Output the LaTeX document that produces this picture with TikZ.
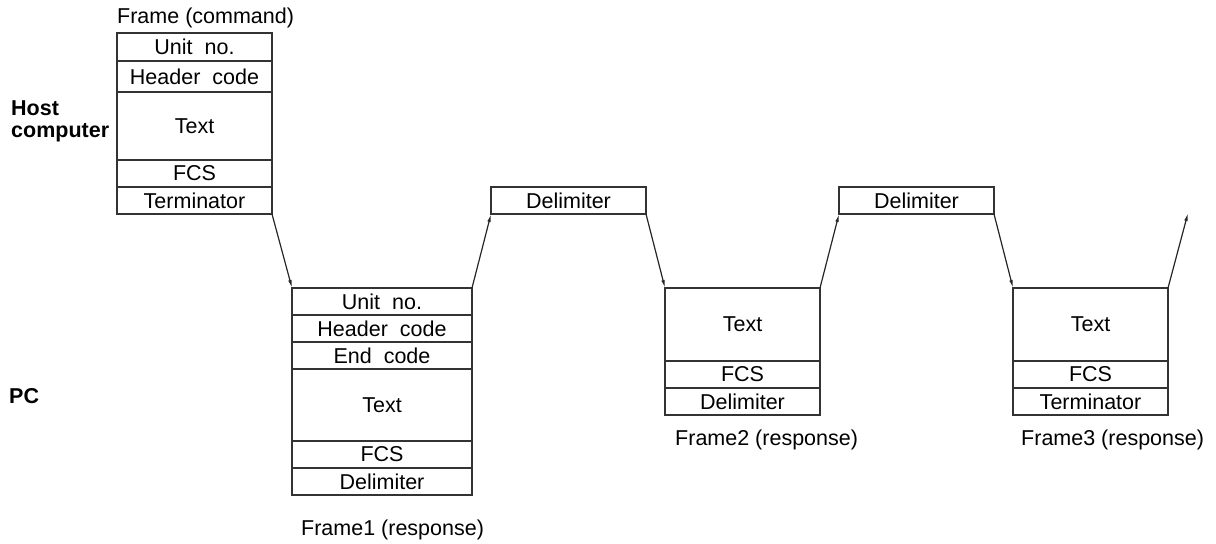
\documentclass[tikz,border=0pt]{standalone}
\usepackage{fontspec}
\setmainfont{Liberation Sans}
\usetikzlibrary{arrows.meta, positioning}
\tikzset{
  field/.style={
    rectangle, draw=black!80, line width=0.6pt, fill=white,
    minimum width=155pt, minimum height=27pt,
    inner sep=0pt, outer sep=0pt,
    align=center, font=\fontsize{21.5}{25}\selectfont
  },
  wide/.style={field, minimum width=180pt},
  caption/.style={anchor=west, inner sep=0pt, font=\fontsize{21.5}{25}\selectfont},
  side/.style={
    anchor=west, inner sep=0pt, align=left,
    font=\fontsize{21.5}{22}\selectfont\bfseries
  },
  arrow/.style={-{Latex[length=4pt, width=1.8pt]}, line width=0.6pt, draw=black!85}
}
\begin{document}
\begin{tikzpicture}[x=1pt, y=-1pt, scale=0.5, every node/.style={scale=0.5}]
\useasboundingbox (0,0) rectangle (1216,543);

% Side labels
\node[side] (host) at (11,121) {Host\\computer};
\node[side] (pc) at (9,396) {PC};

% Command frame
\node[field, anchor=north west, minimum height=28pt] (cunit) at (117,33) {Unit~~no.};
\node[field, below=0pt of cunit, minimum height=31pt] (chead) {Header~~code};
\node[field, below=0pt of chead, minimum height=68pt] (ctext) {Text};
\node[field, below=0pt of ctext] (cfcs) {FCS};
\node[field, below=0pt of cfcs] (cterm) {Terminator};
\node[caption] (clabel) at (117,18) {Frame (command)};

% Frame1 (response)
\node[wide, anchor=north west] (unit1) at (292,288) {Unit~~no.};
\node[wide, below=0pt of unit1] (head1) {Header~~code};
\node[wide, below=0pt of head1] (end1) {End~~code};
\node[wide, below=0pt of end1, minimum height=72pt] (text1) {Text};
\node[wide, below=0pt of text1] (fcs1) {FCS};
\node[wide, below=0pt of fcs1] (dlm1) {Delimiter};
\node[caption] (label1) at (301,530) {Frame1 (response)};

% Delimiters sent by the host
\node[field, anchor=north west] (sep1) at (491,187) {Delimiter};
\node[field, anchor=north west] (sep2) at (839,187) {Delimiter};

% Frame2 (response)
\node[field, anchor=north west, minimum height=73pt] (text2) at (665,288) {Text};
\node[field, below=0pt of text2] (fcs2) {FCS};
\node[field, below=0pt of fcs2] (dlm2) {Delimiter};
\node[caption] (label2) at (675,440) {Frame2 (response)};

% Frame3 (response)
\node[field, anchor=north west, minimum height=73pt] (text3) at (1013,288) {Text};
\node[field, below=0pt of text3] (fcs3) {FCS};
\node[field, below=0pt of fcs3] (term3) {Terminator};
\node[caption] (label3) at (1021,440) {Frame3 (response)};

% Flow arrows
\coordinate (out) at (1188,213);
\draw[arrow] (cterm.south east) -- (unit1.north west);
\draw[arrow] (unit1.north east) -- (sep1.south west);
\draw[arrow] (sep1.south east) -- (text2.north west);
\draw[arrow] (text2.north east) -- (sep2.south west);
\draw[arrow] (sep2.south east) -- (text3.north west);
\draw[arrow] (text3.north east) -- (out);

\end{tikzpicture}
\end{document}
